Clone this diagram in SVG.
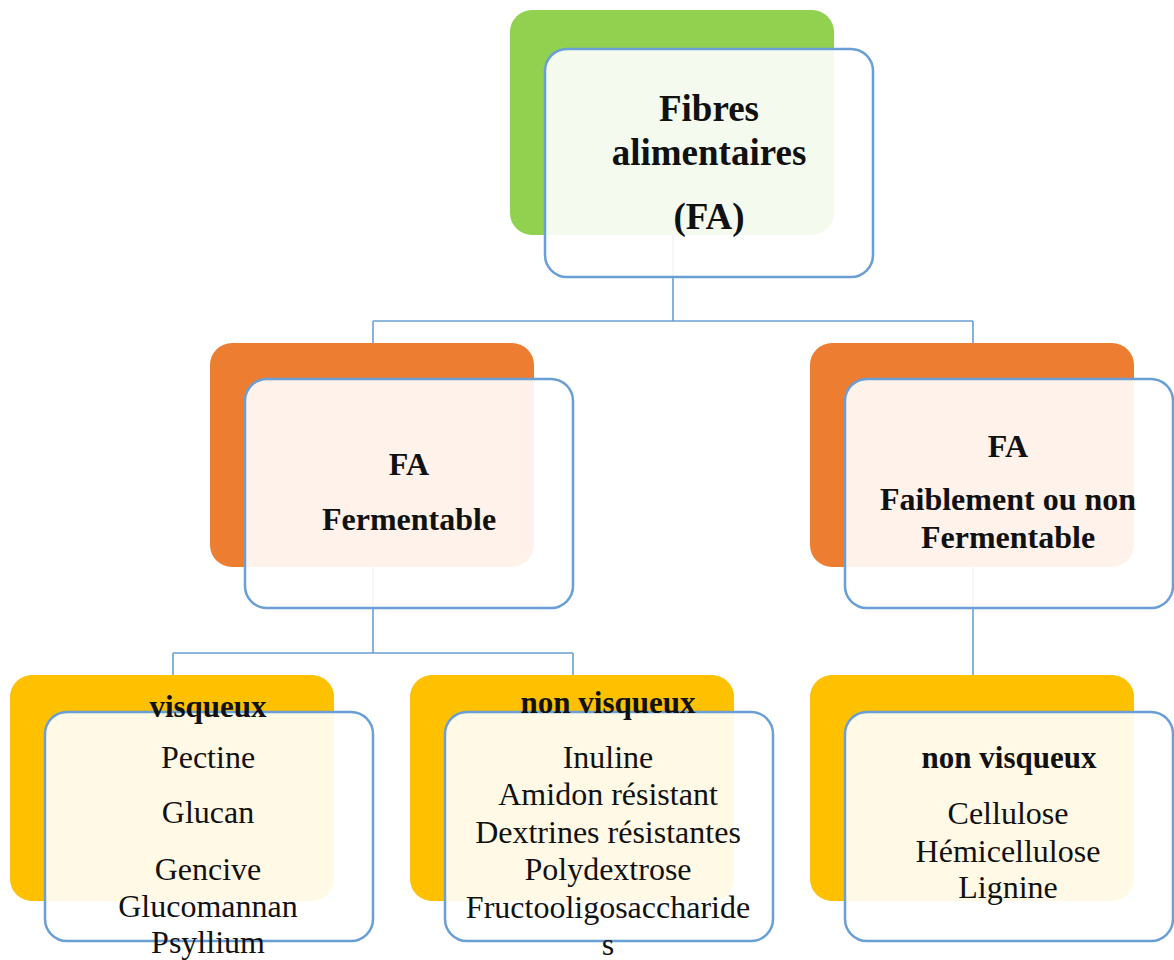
<svg xmlns="http://www.w3.org/2000/svg" width="1174" height="960" viewBox="0 0 1174 960">
<style>
.back{stroke:none}
.green{fill:#92d050}
.orange{fill:#ed7d31}
.yellow{fill:#ffc000}
.front{fill:#ffffff;fill-opacity:0.9;stroke:#6a9fd6;stroke-width:2.5}
.conn{fill:none;stroke:#6a9fd6;stroke-width:1.6}
text{font-family:"Liberation Serif","Times New Roman",serif;fill:#111;text-anchor:middle}
.t1{font-size:37px;font-weight:bold}
.t2{font-size:32px;font-weight:bold}
.t3{font-size:31px;font-weight:bold}
.t4{font-size:32px}
</style>
<rect width="1174" height="960" fill="#ffffff"/>
<g id="connectors">
<path class="conn" d="M673 235 V321 M373 321 H973 M373 321 V343 M973 321 V343"/>
<path class="conn" d="M373 567 V653 M173 653 H573 M173 653 V675 M573 653 V675"/>
<path class="conn" d="M973 567 V675"/>
</g>
<g id="node-fa">
<rect class="back green" x="510" y="10" width="324" height="225" rx="22"/>
<rect class="front" x="545" y="49" width="328" height="228" rx="22"/>
<text class="t1" x="709" y="121">Fibres</text>
<text class="t1" x="709" y="165">alimentaires</text>
<text class="t1" x="709" y="229">(FA)</text>
</g>
<g id="node-fermentable">
<rect class="back orange" x="210" y="343" width="324" height="224" rx="22"/>
<rect class="front" x="245" y="379" width="328" height="229" rx="22"/>
<text class="t2" x="409" y="475">FA</text>
<text class="t2" x="409" y="530">Fermentable</text>
</g>
<g id="node-nonfermentable">
<rect class="back orange" x="810" y="343" width="324" height="224" rx="22"/>
<rect class="front" x="845" y="379" width="328" height="229" rx="22"/>
<text class="t2" x="1008" y="457">FA</text>
<text class="t2" x="1008" y="510">Faiblement ou non</text>
<text class="t2" x="1008" y="548">Fermentable</text>
</g>
<g id="node-visqueux">
<rect class="back yellow" x="10" y="675" width="324" height="226" rx="22"/>
<rect class="front" x="45" y="712" width="328" height="229" rx="22"/>
<text class="t3" x="208" y="717">visqueux</text>
<text class="t4" x="208" y="768">Pectine</text>
<text class="t4" x="208" y="823">Glucan</text>
<text class="t4" x="208" y="880">Gencive</text>
<text class="t4" x="208" y="917">Glucomannan</text>
<text class="t4" x="208" y="953">Psyllium</text>
</g>
<g id="node-nonvisqueux-1">
<rect class="back yellow" x="410" y="675" width="324" height="226" rx="22"/>
<rect class="front" x="445" y="712" width="328" height="229" rx="22"/>
<text class="t3" x="608" y="713">non visqueux</text>
<text class="t4" x="608" y="768">Inuline</text>
<text class="t4" x="608" y="805">Amidon résistant</text>
<text class="t4" x="608" y="843">Dextrines résistantes</text>
<text class="t4" x="608" y="880">Polydextrose</text>
<text class="t4" x="608" y="918">Fructooligosaccharide</text>
<text class="t4" x="608" y="955">s</text>
</g>
<g id="node-nonvisqueux-2">
<rect class="back yellow" x="810" y="675" width="324" height="226" rx="22"/>
<rect class="front" x="845" y="712" width="328" height="229" rx="22"/>
<text class="t3" x="1009" y="768">non visqueux</text>
<text class="t4" x="1008" y="824">Cellulose</text>
<text class="t4" x="1008" y="862">Hémicellulose</text>
<text class="t4" x="1008" y="898">Lignine</text>
</g>
</svg>
